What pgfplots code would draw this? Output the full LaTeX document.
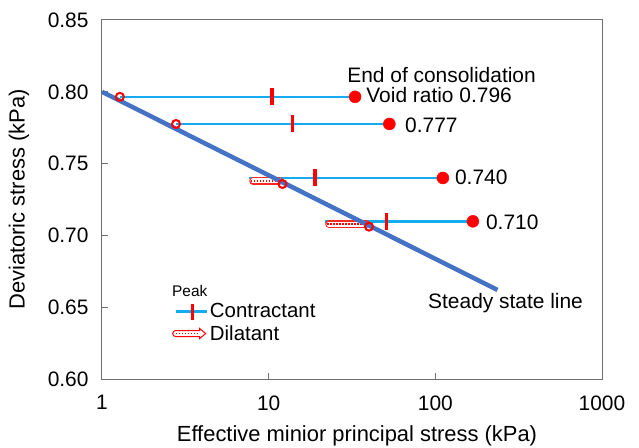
\documentclass[border=0pt]{standalone}
\usepackage{fontspec}
\setmainfont{Liberation Sans}
\usepackage{pgfplots}
\pgfplotsset{compat=1.18}
\definecolor{ssl}{RGB}{68,114,196}
\definecolor{cblue}{RGB}{20,172,238}
\definecolor{frame}{RGB}{110,110,110}
\newcommand{\bigf}{\fontsize{21}{25}\selectfont}
\newcommand{\labf}{\fontsize{22}{26}\selectfont}
\newcommand{\legf}{\fontsize{20.5}{24}\selectfont}
\begin{document}
\begin{tikzpicture}
\useasboundingbox (-102bp,-69bp) rectangle (537bp,379bp);
\begin{axis}[
  at={(0,0)}, anchor=south west,
  width=500bp, height=359bp, scale only axis,
  xmode=log, log basis x=10,
  xmin=1, xmax=1000, ymin=0.60, ymax=0.85,
  xtick={1,10,100,1000}, xticklabels={1,10,100,1000},
  ytick={0.60,0.65,0.70,0.75,0.80,0.85},
  xminorticks=false, yminorticks=false,
  yticklabel style={/pgf/number format/fixed, /pgf/number format/fixed zerofill, /pgf/number format/precision=2, xshift=-10bp},
  /pgf/number format/assume math mode=true,
  ticklabel style={font=\bigf},
  xticklabel style={yshift=-13bp},
  axis line style={frame, line width=1bp},
  tick style={frame, line width=1bp},
  tick align=inside, xtick pos=bottom, ytick pos=left,
  major tick length=6bp,
  xlabel={Effective minior principal stress (kPa)},
  ylabel={Deviatoric stress (kPa)},
  label style={font=\labf},
  xlabel style={at={(axis description cs:0.51,-0.158)}, anchor=center},
  ylabel style={at={(axis description cs:-0.166,0.5)}, anchor=center},
  clip=false,
  legend style={at={(axis description cs:0.14,0.216)}, anchor=north west, draw=none, fill=none,
     font=\legf, row sep=2bp, inner sep=0bp, nodes={inner sep=2bp}},
  legend cell align=left,
]
\addlegendimage{legend image code/.code={
  \draw[cblue, line width=2.5bp] (0bp,0bp) -- (31bp,0bp);
  \draw[red, line width=3bp] (17bp,-8bp) -- (17bp,8bp);}}
\addlegendentry{Contractant}
\addlegendimage{legend image code/.code={
  \draw[red, line width=1bp, fill=white] (0bp,3bp) -- (24bp,3bp) -- (24bp,5bp) -- (30bp,0bp) -- (24bp,-5bp) -- (24bp,-3bp) -- (0bp,-3bp) arc (270:90:3bp) -- cycle;
  \draw[red, line width=1.2bp, dash pattern=on 1.5bp off 1.5bp] (0bp,0bp) -- (24bp,0bp);}}
\addlegendentry{Dilatant}

% contractant lines
\addplot[cblue, line width=2.5bp, forget plot] coordinates {(1.28,0.7965) (33,0.7965)};
\addplot[cblue, line width=2.5bp, forget plot] coordinates {(2.78,0.7776) (53,0.7776)};
\addplot[cblue, line width=2.5bp, forget plot] coordinates {(7.6,0.7400) (111,0.7400)};
\addplot[cblue, line width=2.5bp, forget plot] coordinates {(21.8,0.7098) (168,0.7098)};

% dilatant bands
\addplot[red!85!white, line width=7.5bp, line cap=round, forget plot] coordinates {(8.05,0.7379) (11.6,0.7379)};
\addplot[white, line width=5bp, line cap=round, forget plot] coordinates {(8.05,0.7379) (11.6,0.7379)};
\addplot[red, line width=1.2bp, dash pattern=on 1.5bp off 1.5bp, forget plot] coordinates {(7.8,0.7379) (11.6,0.7379)};
\addplot[red!85!white, line width=7.5bp, line cap=round, forget plot] coordinates {(23.0,0.7079) (38.5,0.7079)};
\addplot[white, line width=5bp, line cap=round, forget plot] coordinates {(23.0,0.7079) (38.5,0.7079)};
\addplot[red, line width=1.2bp, dash pattern=on 1.5bp off 1.5bp, forget plot] coordinates {(22.4,0.7079) (38.5,0.7079)};

% steady state line
\addplot[ssl, line width=4.5bp, forget plot] coordinates {(1,0.800) (236,0.662)};

% peaks
\addplot[only marks, mark=|, mark size=8.5bp, mark options={red, line width=3.5bp}, forget plot]
  coordinates {(10.5,0.7965) (13.9,0.7776) (19,0.7400) (51,0.7098)};

% end of consolidation
\addplot[only marks, mark=*, mark size=6bp, mark options={red, draw=red, fill=red}, forget plot]
  coordinates {(33,0.7965) (53,0.7776) (111,0.7400) (168,0.7098)};

% steady state points
\addplot[only marks, mark=o, mark size=4bp, mark options={red, line width=2bp, fill=white}, forget plot]
  coordinates {(1.28,0.7965) (2.78,0.7776) (12.1,0.7358) (40,0.7061)};

\node[font=\bigf, inner sep=0pt, anchor=center] at (axis cs:109,0.8117) {End of consolidation};
\node[font=\bigf, inner sep=0pt, anchor=west] at (axis cs:38.5,0.7975) {Void ratio 0.796};
\node[font=\bigf, inner sep=0pt, anchor=west] at (axis cs:65.8,0.7766) {0.777};
\node[font=\bigf, inner sep=0pt, anchor=west] at (axis cs:131,0.7404) {0.740};
\node[font=\bigf, inner sep=0pt, anchor=west] at (axis cs:201,0.7092) {0.710};
\node[font=\bigf, inner sep=0pt, anchor=west] at (axis cs:90.4,0.6529) {Steady state line};
\node[font=\fontsize{15.5}{18}\selectfont, inner sep=0pt, anchor=west] at (axis cs:2.63,0.6613) {Peak};
\end{axis}
\end{tikzpicture}
\end{document}
